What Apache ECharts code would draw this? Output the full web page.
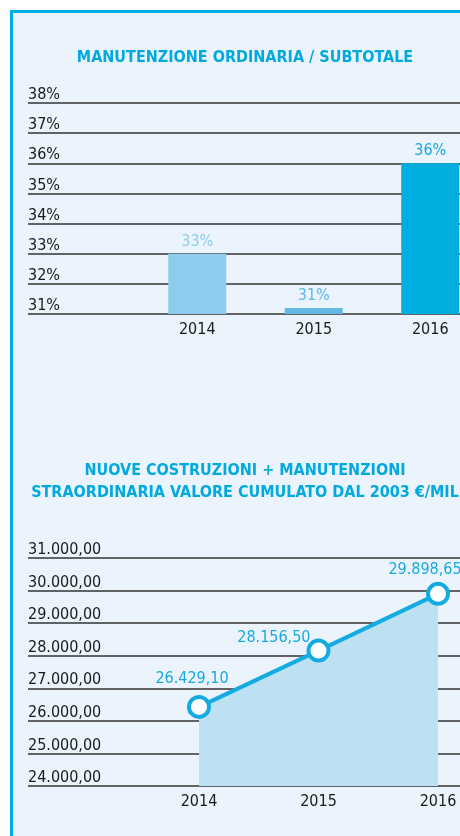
<!DOCTYPE html>
<html>
<head>
<meta charset="utf-8">
<script src="https://cdn.jsdelivr.net/npm/echarts@6/dist/echarts.min.js"></script>
<style>
  html, body { margin: 0; padding: 0; background: #ffffff; }
  #frame { position: absolute; left: 10px; top: 10px; width: 460px; height: 836px;
           background: #ebf4fc; border-left: 3px solid #00b0e4; border-top: 3px solid #00b0e4; box-sizing: border-box; }
  #main { position: absolute; left: 0; top: 0; width: 460px; height: 836px; }
</style>
</head>
<body>
<div id="frame"></div>
<div id="main"></div>
<script>
// ---- data ----
const barYears = ['2014', '2015', '2016'];
const barValues = [33, 31.2, 36];
const barMin = 31, barMax = 38, barStep = 1;

const lineYears = ['2014', '2015', '2016'];
const lineValues = [26429.10, 28156.50, 29898.65];
const lineMin = 24000, lineMax = 31000, lineStep = 1000;

const title1 = 'MANUTENZIONE ORDINARIA / SUBTOTALE';
const title2 = 'NUOVE COSTRUZIONI + MANUTENZIONI\nSTRAORDINARIA VALORE CUMULATO DAL 2003 €/MIL';

// ---- styles ----
const FONT = "'DejaVu Sans Condensed', 'Liberation Sans Narrow', sans-serif";
const barColors = ['#8ecbec', '#62b8e6', '#00aedf'];
const barLabelColors = ['#8ecdef', '#5cb8e7', '#17a8df'];
const lineColor = '#14ace0';
const lineLabelPos = [
  { position: 'top', distance: 8, offset: [-7, 0] },
  { position: 'left', distance: 0, offset: [4, -13] },
  { position: 'top', distance: 4, offset: [-13, 0] }
];
const gridLine = { color: '#333333', width: 1.5 };

function itNum(v) {
  const fixed = v.toFixed(2);
  let [ip, dp] = fixed.split('.');
  ip = ip.replace(/\B(?=(\d{3})+(?!\d))/g, '.');
  return ip + ',' + dp;
}

const chart = echarts.init(document.getElementById('main'), null, { renderer: 'canvas' });

const option = {
  backgroundColor: 'transparent',
  animation: false,
  textStyle: { fontFamily: FONT },
  title: [
    { text: title1, left: 240, top: 45, textAlign: 'center',
      textStyle: { color: '#00a9de', fontSize: 16, fontWeight: 'bold', fontFamily: FONT } },
    { text: title2, left: 240, top: 455, textAlign: 'center',
      textStyle: { color: '#00a9de', fontSize: 16, fontWeight: 'bold', fontFamily: FONT, lineHeight: 22, align: 'center' } }
  ],
  grid: [
    { left: 28, right: 0, top: 103, bottom: 522, outerBoundsMode: 'none', containLabel: false },
    { left: 139, width: 349.5, top: 103, bottom: 522, outerBoundsMode: 'none', containLabel: false },
    { left: 28, right: 0, top: 558, bottom: 50, outerBoundsMode: 'none', containLabel: false },
    { left: 199, right: 22, top: 558, bottom: 50, outerBoundsMode: 'none', containLabel: false }
  ],
  xAxis: [
    { gridIndex: 0, type: 'value', show: false, min: 0, max: 1 },
    { gridIndex: 1, type: 'category', data: barYears,
      axisLine: { show: false }, axisTick: { show: false }, splitLine: { show: false },
      axisLabel: { color: '#1a1a1a', fontSize: 16, margin: 8, fontFamily: FONT } },
    { gridIndex: 2, type: 'value', show: false, min: 0, max: 1 },
    { gridIndex: 3, type: 'category', data: lineYears, boundaryGap: false,
      axisLine: { show: false }, axisTick: { show: false }, splitLine: { show: false },
      axisLabel: { color: '#1a1a1a', fontSize: 16, margin: 8, fontFamily: FONT } }
  ],
  yAxis: [
    { gridIndex: 0, type: 'value', min: barMin, max: barMax, interval: barStep,
      axisLine: { show: false }, axisTick: { show: false },
      splitLine: { show: true, lineStyle: gridLine },
      axisLabel: { inside: true, margin: 0, verticalAlign: 'bottom', color: '#1a1a1a', fontSize: 16,
                   fontFamily: FONT, formatter: v => v + '%' } },
    { gridIndex: 1, type: 'value', min: barMin, max: barMax, interval: barStep, show: false,
      splitLine: { show: false } },
    { gridIndex: 2, type: 'value', min: lineMin, max: lineMax, interval: lineStep,
      axisLine: { show: false }, axisTick: { show: false },
      splitLine: { show: true, lineStyle: gridLine },
      axisLabel: { inside: true, margin: 0, verticalAlign: 'bottom', color: '#1a1a1a', fontSize: 16,
                   fontFamily: FONT, formatter: v => itNum(v) } },
    { gridIndex: 3, type: 'value', min: lineMin, max: lineMax, interval: lineStep, show: false,
      splitLine: { show: false } }
  ],
  series: [
    {
      type: 'bar', xAxisIndex: 1, yAxisIndex: 1, barWidth: 58,
      data: barValues.map((v, i) => ({
        value: v,
        itemStyle: { color: barColors[i] },
        label: { color: barLabelColors[i] }
      })),
      label: { show: true, position: 'top', distance: 4, fontSize: 16, fontFamily: FONT,
               formatter: p => Math.round(p.value) + '%' }
    },
    {
      type: 'line', xAxisIndex: 3, yAxisIndex: 3,
      data: lineValues.map((v, i) => ({ value: v, label: lineLabelPos[i] })),
      symbol: 'circle', symbolSize: 20,
      itemStyle: { color: '#ffffff', borderColor: lineColor, borderWidth: 4 },
      lineStyle: { color: lineColor, width: 4 },
      areaStyle: { color: '#bde0f3', opacity: 1, origin: 'start' },
      label: { show: true, color: '#18a9df', fontSize: 16, fontFamily: FONT,
               formatter: p => itNum(p.value) },
      z: 3
    }
  ]
};
chart.setOption(option);
</script>
</body>
</html>
